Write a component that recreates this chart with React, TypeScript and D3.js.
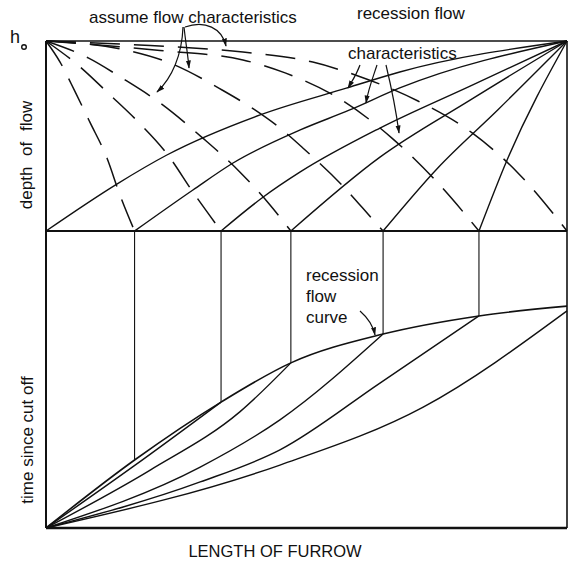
import React from 'react';
import * as d3 from 'd3';

// stations along the furrow (0 = head, 100 = tail)
const stations = [0, 17, 33.6, 47, 64.7, 83.1, 100];
// time since cut off at which recession reaches each station
const recessionTime = [0, 22.9, 42.4, 55.6, 65.3, 71.4, 74.7];

// recession flow characteristics (solid), [distance, depth]
const solidChars: [number, number][][] = [
  [[0, 0], [13.6, 24.7], [23.2, 40], [41.1, 61.1], [57.8, 75.3], [67.9, 83.7], [100, 100]],
  [[17, 0], [28.2, 21.6], [35.9, 35.8], [48.8, 53.2], [58.3, 63.7], [67.9, 75.3], [100, 100]],
  [[33.6, 0], [41.7, 17.9], [48.8, 31.1], [64.1, 54.2], [81.4, 76.3], [100, 100]],
  [[47, 0], [64.1, 38.9], [81.4, 68.9], [100, 100]],
  [[64.7, 0], [75.2, 33.2], [86.7, 63.7], [100, 100]],
  [[83.1, 0], [88.5, 37.4], [100, 100]],
];

// assumed flow characteristics (dashed), [distance, depth]
const dashedChars: [number, number][][] = [
  [[0, 100], [2.7, 88.9], [5.6, 73.2], [8.4, 57.4], [11.7, 38.4], [14.2, 18.9], [17, 0]],
  [[0, 100], [6.1, 87.4], [12.3, 71.6], [17.7, 57.4], [23.4, 40], [28.2, 20.5], [33.6, 0]],
  [[0, 100], [8.1, 91.1], [14.6, 80.5], [21.9, 67.4], [30.1, 48.9], [37.2, 31.1], [43, 13.7], [47, 0]],
  [[0, 100], [16.1, 94.8], [23.8, 88.4], [33.8, 74.2], [40.1, 63.7], [44.9, 54.2], [49.3, 43.7], [56.8, 24.2], [62.8, 5.8], [64.7, 0]],
  [[0, 100], [21.9, 95], [37.8, 90], [45.9, 83.2], [56.1, 70], [66.4, 48.9], [75.2, 25.3], [83.1, 0]],
  [[0, 100], [20, 97.6], [37.8, 94.2], [51.2, 88.9], [59.9, 81.6], [71.4, 68.4], [81.8, 51.6], [90.4, 31.1], [100, 0]],
];

// characteristics in the time plane, [distance, time]
const timeChars: [number, number][][] = [
  [[0, 0], [16.9, 20.9], [33.6, 42.4]],
  [[0, 0], [20, 19.5], [37.2, 39.1], [47, 55.6]],
  [[0, 0], [29.6, 20.5], [44.9, 36.4], [64.7, 65.3]],
  [[0, 0], [29.6, 15.5], [44.9, 26.3], [64.1, 48.8], [83.1, 71.4]],
  [[0, 0], [44.9, 21.2], [72.4, 40.7], [100, 73.1]],
];

const W = 572;
const H = 564;
const font = 'Liberation Sans, Arial, Helvetica, sans-serif';

const x = d3.scaleLinear().domain([0, 100]).range([46, 567]);
const yDepth = d3.scaleLinear().domain([0, 100]).range([231, 41]);
const yTime = d3.scaleLinear().domain([0, 100]).range([528, 231]);

const depthLine = d3
  .line<[number, number]>()
  .x((d) => x(d[0]))
  .y((d) => yDepth(d[1]))
  .curve(d3.curveMonotoneX);

const timeLine = d3
  .line<[number, number]>()
  .x((d) => x(d[0]))
  .y((d) => yTime(d[1]))
  .curve(d3.curveMonotoneX);

const recession: [number, number][] = stations.map((s, i) => [s, recessionTime[i]]);

export default function App() {
  return (
    <svg
      width={W}
      height={H}
      style={{ position: 'absolute', left: 0, top: 0, background: '#fff' }}
      fontFamily={font}
    >
      <defs>
        <marker id="ah" viewBox="0 0 10 10" refX="9" refY="5" markerWidth="7" markerHeight="7" orient="auto">
          <path d="M0,2 L10,5 L0,8 z" fill="#111" />
        </marker>
      </defs>

      {/* dashed: assumed flow characteristics */}
      {dashedChars.map((c, i) => (
        <path key={'d' + i} d={depthLine(c) || ''} fill="none" stroke="#111" strokeWidth={1.5} strokeDasharray="30,14" />
      ))}

      {/* solid: recession flow characteristics */}
      {solidChars.map((c, i) => (
        <path key={'s' + i} d={depthLine(c) || ''} fill="none" stroke="#111" strokeWidth={1.4} />
      ))}

      {/* time plane characteristics */}
      {timeChars.map((c, i) => (
        <path key={'t' + i} d={timeLine(c) || ''} fill="none" stroke="#111" strokeWidth={1.4} />
      ))}
      <path d={timeLine(recession) || ''} fill="none" stroke="#111" strokeWidth={1.6} />

      {/* verticals from the depth plane down to the recession curve */}
      {stations.slice(1, -1).map((s, i) => (
        <line key={'v' + i} x1={x(s)} x2={x(s)} y1={yDepth(0)} y2={yTime(recessionTime[i + 1])} stroke="#111" strokeWidth={1.1} />
      ))}

      {/* frame */}
      <line x1={x(0)} x2={x(100)} y1={yDepth(100)} y2={yDepth(100)} stroke="#111" strokeWidth={1.6} />
      <line x1={x(0)} x2={x(100)} y1={yDepth(0)} y2={yDepth(0)} stroke="#111" strokeWidth={2} />
      <line x1={x(0)} x2={x(100)} y1={yTime(0)} y2={yTime(0)} stroke="#111" strokeWidth={2.4} />
      <line x1={x(0)} x2={x(0)} y1={yDepth(100)} y2={yTime(0)} stroke="#111" strokeWidth={2} />
      <line x1={x(100)} x2={x(100)} y1={yDepth(100)} y2={yTime(0)} stroke="#111" strokeWidth={1.6} />

      {/* annotation arrows */}
      <g fill="none" stroke="#111" strokeWidth={1.2} markerEnd="url(#ah)">
        <path d="M183,27 C182,55 172,78 157,92" />
        <path d="M184,27 C186,45 188,56 189,68" />
        <path d="M185,27 C205,20 222,28 226,46" />
        <path d="M360,65 C356,76 352,81 348,88" />
        <path d="M377,65 C372,80 368,90 366,103" />
        <path d="M386,65 C392,90 396,110 399,133" />
        <path d="M360,311 C368,318 373,325 375,335" />
      </g>

      {/* texts */}
      <g fill="#111" fontSize={17}>
        <text x={89} y={23}>assume flow characteristics</text>
        <text x={357} y={19}>recession flow</text>
        <text x={348} y={59}>characteristics</text>
        <text x={306} y={281}>recession</text>
        <text x={306} y={302}>flow</text>
        <text x={306} y={323}>curve</text>
        <text x={10} y={43} fontSize={18}>h</text>
      </g>
      <circle cx={24} cy={47} r={2.3} fill="none" stroke="#111" strokeWidth={1.4} />
      <text transform="translate(32,155) rotate(-90)" textAnchor="middle" fontSize={17} wordSpacing={6} fill="#111">
        depth of flow
      </text>
      <text transform="translate(33,440) rotate(-90)" textAnchor="middle" fontSize={17} fill="#111">
        time since cut off
      </text>
      <text x={275} y={557} textAnchor="middle" fontSize={16.5} fill="#111">
        LENGTH OF FURROW
      </text>
    </svg>
  );
}
